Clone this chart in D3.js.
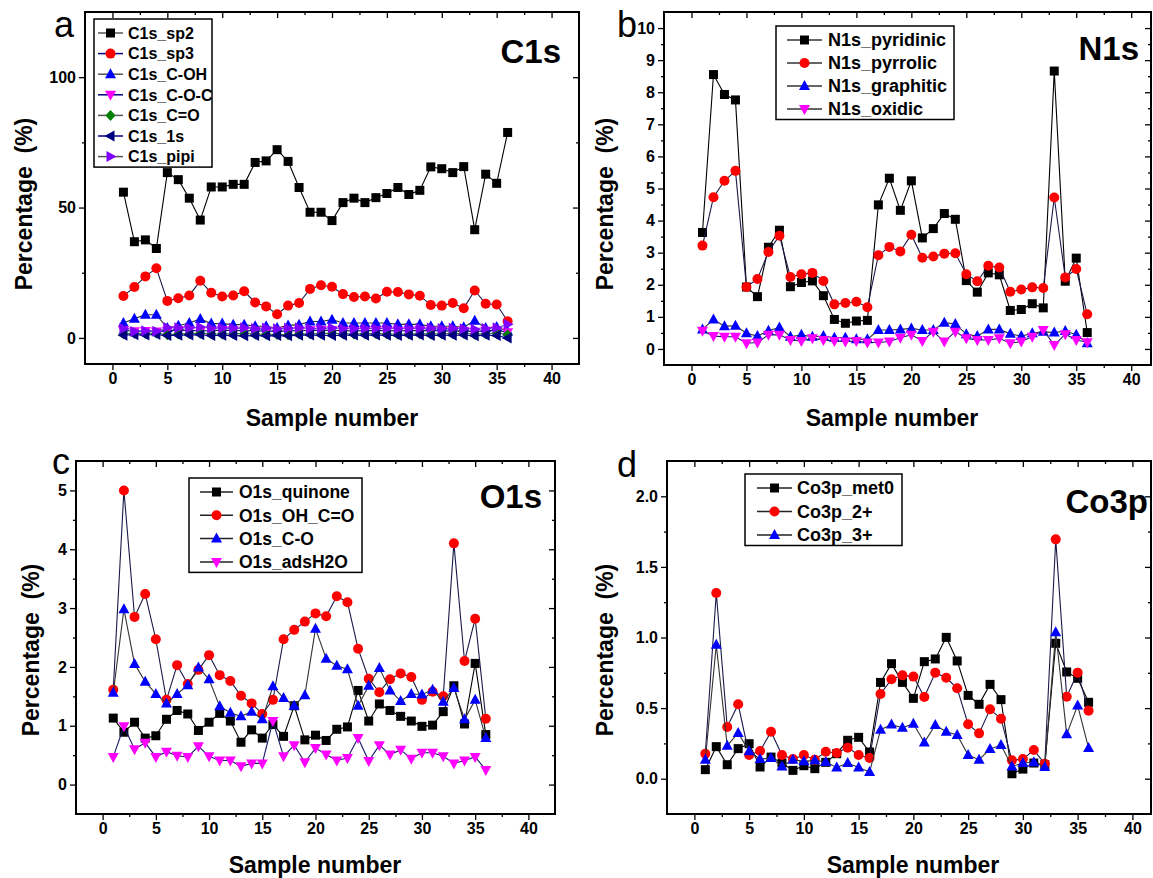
<!DOCTYPE html>
<html>
<head>
<meta charset="utf-8">
<title>XPS components vs sample number</title>
<script src="https://d3js.org/d3.v7.min.js"></script>
<style>
  body { margin: 0; background: #fff; }
  svg { font-family: Arial, "Liberation Sans", sans-serif; }
  .tick text { font-size: 16px; font-weight: bold; fill: #000; }
  .tick line { stroke: #000; stroke-width: 1.3; }
  .axtitle { font-size: 23px; font-weight: bold; }
  .ptitle { font-size: 33px; font-weight: bold; }
  .letter { font-size: 36px; }
  .legend text { font-weight: bold; }
</style>
</head>
<body>
<svg width="1153" height="878"></svg>
<script>
// ---- data ----
var sampleNumbers = [1,2,3,4,5,6,7,8,9,10,11,12,13,14,15,16,17,18,19,20,21,22,23,24,25,26,27,28,29,30,31,32,33,34,35,36];

// C1s
var c1sNames = ["C1s_sp2","C1s_sp3","C1s_C-OH","C1s_C-O-C","C1s_C=O","C1s_1s","C1s_pipi"];
var c1s_sp2 = [55.9,36.9,37.6,34.3,63.4,60.7,53.6,45.2,57.9,57.9,58.9,58.9,67.3,67.9,72.2,67.7,57.7,48.2,48.2,45.0,51.9,53.6,51.9,53.8,55.4,57.7,55.0,56.6,65.6,64.9,63.4,65.7,41.5,62.8,59.3,78.8];
var c1s_sp3 = [16.1,19.5,23.6,26.7,14.2,15.2,16.3,21.9,17.3,15.9,16.3,17.9,13.6,12.1,9.1,12.4,13.4,18.8,20.2,19.6,16.8,15.7,15.9,15.1,17.7,17.6,16.7,16.2,12.6,12.4,13.4,11.4,18.2,13.1,12.8,6.4];
var c1s_COH = [5.7,7.4,8.9,8.9,3.8,4.7,5.7,7.3,5.5,5.5,5.1,5.1,4.5,4.5,3.8,4.8,5.1,6.3,6.3,7.0,5.7,5.7,5.7,5.7,5.7,5.2,5.2,5.2,4.5,4.5,4.5,4.1,6.6,3.8,4.2,2.5];
var c1s_COC = [2.9,2.6,2.7,2.5,2.8,3.0,2.9,2.7,2.8,3.0,2.9,2.8,2.7,2.6,2.5,2.7,2.8,2.9,3.0,2.9,2.8,2.7,2.8,2.9,2.8,2.7,2.8,2.9,2.8,2.7,2.6,2.7,2.4,2.8,2.9,2.2];
var c1s_CdO = [1.6,1.8,1.7,1.9,1.2,1.5,1.7,1.8,1.6,1.5,1.6,1.7,1.5,1.4,1.3,1.2,1.5,1.6,1.7,1.8,1.6,1.5,1.6,1.7,1.5,1.4,1.5,1.6,1.5,1.6,1.7,1.8,1.4,1.6,1.9,1.2];
var c1s_1s = [1.0,1.2,1.1,1.3,0.9,1.0,1.1,1.2,0.9,1.0,0.9,0.8,0.9,0.8,0.9,0.8,1.0,1.1,1.0,0.9,1.0,1.1,1.0,1.1,1.0,0.9,1.0,1.1,0.9,1.0,1.0,1.1,0.8,1.0,0.9,0.0];
var c1s_pipi = [3.6,2.5,2.8,2.6,4.0,3.9,3.8,4.2,3.7,3.8,3.7,3.9,3.6,3.8,3.5,3.7,3.9,3.6,3.7,3.8,3.6,3.5,3.7,3.6,3.7,3.5,3.6,3.7,3.8,3.6,3.7,3.5,3.3,3.6,3.9,5.2];

// N1s
var n1sNames = ["N1s_pyridinic","N1s_pyrrolic","N1s_graphitic","N1s_oxidic"];
var n1s_pyridinic = [3.63,8.55,7.93,7.76,1.93,1.63,3.17,3.70,1.94,2.07,2.12,1.66,0.92,0.80,0.87,0.89,4.49,5.32,4.32,5.24,3.46,3.75,4.22,4.04,2.13,1.77,2.37,2.31,1.20,1.23,1.41,1.28,8.66,2.11,2.83,0.51];
var n1s_pyrrolic = [3.22,4.73,5.24,5.55,1.93,2.18,3.02,3.53,2.24,2.33,2.37,2.12,1.39,1.43,1.47,1.30,2.92,3.18,3.04,3.56,2.84,2.88,2.97,2.98,2.33,2.11,2.59,2.54,1.78,1.85,1.92,1.90,4.72,2.23,2.49,1.08];
var n1s_graphitic = [0.61,0.92,0.71,0.72,0.49,0.40,0.57,0.67,0.38,0.44,0.38,0.40,0.35,0.35,0.30,0.30,0.59,0.59,0.61,0.64,0.59,0.59,0.82,0.78,0.46,0.40,0.61,0.61,0.47,0.40,0.49,0.54,0.51,0.56,0.44,0.18];
var n1s_oxidic = [0.57,0.40,0.38,0.38,0.18,0.20,0.44,0.44,0.28,0.25,0.33,0.28,0.25,0.23,0.25,0.20,0.20,0.23,0.35,0.44,0.25,0.54,0.23,0.54,0.33,0.28,0.28,0.33,0.18,0.23,0.38,0.59,0.12,0.46,0.28,0.21];

// O1s
var o1sNames = ["O1s_quinone","O1s_OH_C=O","O1s_C-O","O1s_adsH2O"];
var o1s_quinone = [1.13,0.89,1.06,0.79,0.83,1.11,1.26,1.20,0.92,1.06,1.21,1.08,0.72,0.93,0.79,1.02,0.82,1.34,0.76,0.84,0.75,0.94,0.98,1.60,1.08,1.37,1.26,1.16,1.08,0.99,1.01,1.24,1.68,1.03,2.06,0.85];
var o1s_OHCO = [1.61,5.00,2.85,3.24,2.47,1.44,2.03,1.71,1.95,2.20,1.86,1.76,1.51,1.38,1.20,1.44,2.47,2.63,2.77,2.91,2.86,3.20,3.10,2.31,1.80,1.57,1.79,1.89,1.83,1.44,1.58,1.50,4.10,2.10,2.82,1.12];
var o1s_CO = [1.56,2.98,2.05,1.75,1.54,1.38,1.54,1.69,1.99,1.79,1.33,1.22,1.16,1.24,1.11,1.67,1.47,1.34,1.52,2.65,2.14,2.02,1.96,1.34,1.68,1.98,1.60,1.42,1.54,1.53,1.61,1.41,1.64,1.11,1.44,0.79];
var o1s_adsH2O = [0.47,0.99,0.60,0.71,0.47,0.56,0.49,0.47,0.65,0.48,0.41,0.41,0.31,0.36,0.36,1.08,0.48,0.67,0.38,0.62,0.51,0.41,0.45,0.79,0.40,0.67,0.51,0.59,0.44,0.54,0.54,0.48,0.36,0.41,0.47,0.25];

// Co3p
var co3pNames = ["Co3p_met0","Co3p_2+","Co3p_3+"];
var co3p_met0 = [0.064,0.227,0.099,0.213,0.248,0.083,0.153,0.111,0.059,0.092,0.071,0.116,0.177,0.272,0.293,0.189,0.682,0.815,0.682,0.569,0.829,0.848,1.001,0.834,0.590,0.527,0.668,0.560,0.035,0.068,0.111,0.099,0.959,0.756,0.711,0.541];
var co3p_2p = [0.177,1.315,0.366,0.527,0.168,0.196,0.333,0.168,0.139,0.168,0.135,0.191,0.182,0.220,0.168,0.146,0.600,0.704,0.732,0.723,0.579,0.751,0.715,0.640,0.385,0.321,0.491,0.425,0.130,0.139,0.203,0.106,1.695,0.581,0.751,0.482];
var co3p_3p = [0.135,0.949,0.234,0.324,0.194,0.139,0.146,0.087,0.135,0.123,0.130,0.118,0.080,0.111,0.080,0.047,0.347,0.383,0.361,0.390,0.257,0.380,0.333,0.309,0.168,0.135,0.210,0.238,0.087,0.111,0.116,0.083,1.037,0.314,0.519,0.217];

// tick labels
var xTicks = [0,5,10,15,20,25,30,35,40];
var yTicksA = [0,50,100];
var yTicksB = [0,1,2,3,4,5,6,7,8,9,10];
var yTicksC = [0,1,2,3,4,5];
var yTicksD = [0,0.5,1.0,1.5,2.0];

// ---- drawing ----
var svg = d3.select("svg");

var symbols = {
  square: "M-4.5,-4.5h9v9h-9Z",
  up: "M0,-6L5.5,4L-5.5,4Z",
  down: "M0,6L5.5,-4L-5.5,-4Z",
  diamond: "M0,-5.5L5,0L0,5.5L-5,0Z",
  left: "M-6,0L4,-5.5L4,5.5Z",
  right: "M6,0L-4,-5.5L-4,5.5Z"
};

function drawMarker(g, type, x, y, color) {
  if (type === "circle") {
    g.append("circle").attr("cx", x).attr("cy", y).attr("r", 5).attr("fill", color);
  } else {
    g.append("path").attr("d", symbols[type])
      .attr("transform", "translate(" + x + "," + y + ")")
      .attr("fill", color);
  }
}

var styles = [
  {color: "#000000", sym: "square", line: "#222"},
  {color: "#ff0000", sym: "circle", line: "#1a1a4a"},
  {color: "#0000ff", sym: "up", line: "#333"},
  {color: "#ff00ff", sym: "down", line: "#1a1a6a"},
  {color: "#008000", sym: "diamond", line: "#555577"},
  {color: "#000080", sym: "left", line: "#000080"},
  {color: "#8000ff", sym: "right", line: "#6a5acd"}
];

var panels = [
  {
    left: 85, right: 579, top: 12, bottom: 364,
    xDomain: [-2.5, 42.5], yDomain: [-10, 125],
    yTicks: yTicksA, yMinor: [25, 75, 125], yFmt: d3.format("d"),
    names: c1sNames, series: [c1s_sp2, c1s_sp3, c1s_COH, c1s_COC, c1s_CdO, c1s_1s, c1s_pipi],
    legend: {x: 94, y: 19, w: 118, rowY: 33, dy: 20.6, lx0: 98, lx1: 123, tx: 128, fs: 16},
    title: "C1s", titleX: 561, titleY: 63,
    letter: "a", letterX: 54, letterY: 37,
    yLabelX: 32, yLabelY: 204, xLabelX: 332, xLabelY: 426,
    legendLines: ["#555", "#000080", "#555", "#000080", "#555", "#000080", "#555"]
  },
  {
    left: 664, right: 1151, top: 12, bottom: 365,
    xDomain: [-2.5, 41.8], yDomain: [-0.5, 10.5],
    yTicks: yTicksB, yMinor: d3.range(-0.5, 10.6, 0.5), yFmt: d3.format("d"),
    names: n1sNames, series: [n1s_pyridinic, n1s_pyrrolic, n1s_graphitic, n1s_oxidic],
    legend: {x: 776, y: 26, w: 178, rowY: 40, dy: 23, lx0: 787, lx1: 822, tx: 828, fs: 18},
    title: "N1s", titleX: 1139, titleY: 60,
    letter: "b", letterX: 617, letterY: 37,
    yLabelX: 613, yLabelY: 204, xLabelX: 892, xLabelY: 426,
    legendLines: ["#333", "#333", "#333", "#333"]
  },
  {
    left: 76, right: 555, top: 461, bottom: 814,
    xDomain: [-2.5, 42.5], yDomain: [-0.5, 5.5],
    yTicks: yTicksC, yMinor: d3.range(-0.5, 5.6, 0.5), yFmt: d3.format("d"),
    names: o1sNames, series: [o1s_quinone, o1s_OHCO, o1s_CO, o1s_adsH2O],
    legend: {x: 189, y: 478, w: 173, rowY: 492, dy: 23.3, lx0: 200, lx1: 233, tx: 239, fs: 17.5},
    title: "O1s", titleX: 542, titleY: 508,
    letter: "c", letterX: 52, letterY: 474,
    yLabelX: 39, yLabelY: 650, xLabelX: 315, xLabelY: 873,
    legendLines: ["#222", "#222", "#222", "#222"]
  },
  {
    left: 667, right: 1151, top: 461, bottom: 814,
    xDomain: [-2.5, 41.7], yDomain: [-0.25, 2.25],
    yTicks: yTicksD, yMinor: d3.range(-0.25, 2.26, 0.25), yFmt: d3.format(".1f"),
    names: co3pNames, series: [co3p_met0, co3p_2p, co3p_3p],
    legend: {x: 745, y: 474, w: 157, rowY: 488, dy: 23.5, lx0: 757, lx1: 792, tx: 797, fs: 18},
    title: "Co3p", titleX: 1148, titleY: 513,
    letter: "d", letterX: 617, letterY: 477,
    yLabelX: 613, yLabelY: 650, xLabelX: 913, xLabelY: 873,
    legendLines: ["#222", "#222", "#222"]
  }
];

var xMinor = d3.range(-2.5, 42.6, 2.5);

panels.forEach(function(p) {
  var x = d3.scaleLinear().domain(p.xDomain).range([p.left, p.right]);
  var y = d3.scaleLinear().domain(p.yDomain).range([p.bottom, p.top]);
  var g = svg.append("g");

  // axes (ticks) - minor first, then major
  function addAxis(axisFn, scale, values, size, transform, labels, fmt) {
    var a = axisFn(scale).tickValues(values).tickSizeInner(size).tickSizeOuter(0).tickPadding(3);
    a.tickFormat(labels ? fmt : function() { return ""; });
    var ag = g.append("g").attr("transform", transform).call(a);
    ag.select(".domain").remove();
    return ag;
  }
  var xm = xMinor.filter(function(v) { return v > p.xDomain[0] && v < p.xDomain[1] && v % 5 !== 0; });
  var ym = p.yMinor.filter(function(v) { return v > p.yDomain[0] + 1e-6 && v < p.yDomain[1] - 1e-6 && p.yTicks.indexOf(+v.toFixed(2)) < 0; });

  addAxis(d3.axisBottom, x, xm, 3, "translate(0," + p.bottom + ")", false);
  addAxis(d3.axisBottom, x, xTicks, 6, "translate(0," + p.bottom + ")", true, d3.format("d"));
  addAxis(d3.axisTop, x, xm, -3, "translate(0," + p.top + ")", false);
  addAxis(d3.axisTop, x, xTicks, -6, "translate(0," + p.top + ")", false);
  addAxis(d3.axisLeft, y, ym, 3, "translate(" + p.left + ",0)", false);
  addAxis(d3.axisLeft, y, p.yTicks, 6, "translate(" + p.left + ",0)", true, p.yFmt);
  addAxis(d3.axisRight, y, ym, -3, "translate(" + p.right + ",0)", false);
  addAxis(d3.axisRight, y, p.yTicks, -6, "translate(" + p.right + ",0)", false);

  g.selectAll(".tick text").attr("font-family", "Arial, 'Liberation Sans', sans-serif");

  // frame
  g.append("rect")
    .attr("x", p.left).attr("y", p.top)
    .attr("width", p.right - p.left).attr("height", p.bottom - p.top)
    .attr("fill", "none").attr("stroke", "#000").attr("stroke-width", 2);

  // lines and markers
  var line = d3.line()
    .x(function(d, i) { return x(sampleNumbers[i]); })
    .y(function(d) { return y(d); });

  p.series.forEach(function(vals, si) {
    var st = styles[si];
    var sg = g.append("g");
    sg.append("path").datum(vals)
      .attr("d", line)
      .attr("fill", "none")
      .attr("stroke", si === 0 ? "#000" : st.line)
      .attr("stroke-width", 1.1);
    vals.forEach(function(v, i) {
      drawMarker(sg, st.sym, x(sampleNumbers[i]), y(v), st.color);
    });
  });

  // legend
  var L = p.legend;
  var lg = g.append("g").attr("class", "legend");
  var h = L.rowY - L.y + (p.names.length - 1) * L.dy + (L.rowY - L.y) * 0.75;
  lg.append("rect")
    .attr("x", L.x).attr("y", L.y).attr("width", L.w).attr("height", h)
    .attr("fill", "#fff").attr("stroke", "#000").attr("stroke-width", 1.5);
  p.names.forEach(function(name, i) {
    var ry = L.rowY + i * L.dy;
    lg.append("line")
      .attr("x1", L.lx0).attr("x2", L.lx1).attr("y1", ry).attr("y2", ry)
      .attr("stroke", p.legendLines[i]).attr("stroke-width", 1.5);
    drawMarker(lg, styles[i].sym, (L.lx0 + L.lx1) / 2, ry, styles[i].color);
    lg.append("text")
      .attr("x", L.tx).attr("y", ry)
      .attr("dy", "0.36em")
      .attr("font-size", L.fs + "px")
      .text(name);
  });

  // titles
  g.append("text").attr("class", "ptitle")
    .attr("x", p.titleX).attr("y", p.titleY)
    .attr("text-anchor", "end").text(p.title);
  g.append("text").attr("class", "letter")
    .attr("x", p.letterX).attr("y", p.letterY).text(p.letter);
  g.append("text").attr("class", "axtitle")
    .attr("transform", "translate(" + p.yLabelX + "," + p.yLabelY + ") rotate(-90)")
    .attr("text-anchor", "middle").attr("xml:space", "preserve")
    .text("Percentage  (%)");
  g.append("text").attr("class", "axtitle")
    .attr("x", p.xLabelX).attr("y", p.xLabelY)
    .attr("text-anchor", "middle").text("Sample number");
});
</script>
</body>
</html>
